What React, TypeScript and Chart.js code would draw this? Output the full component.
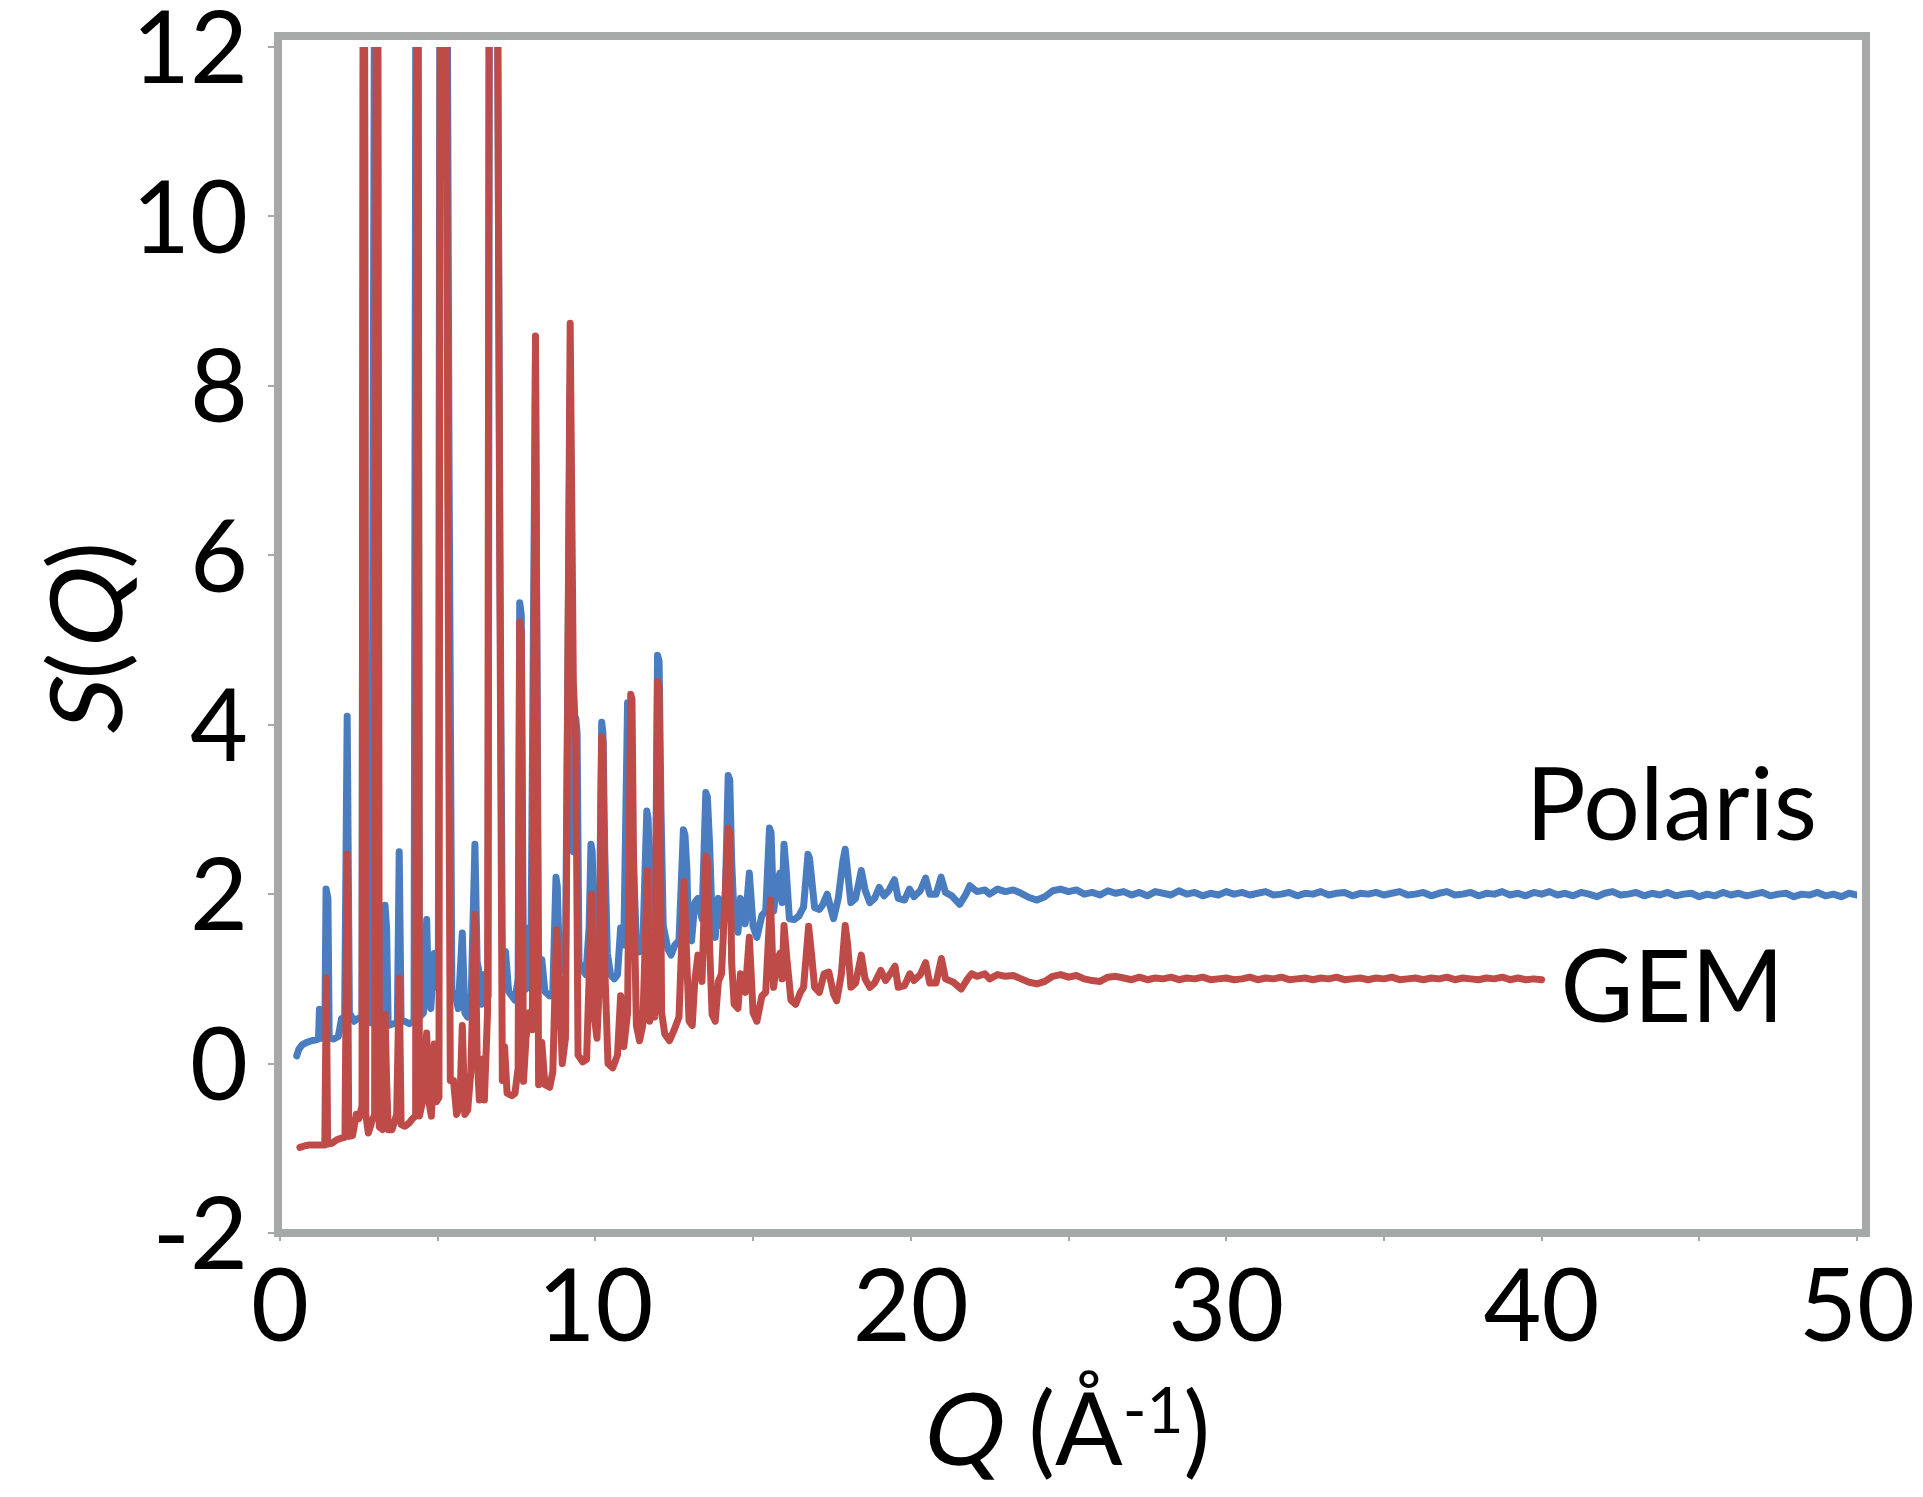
import React, { useEffect, useRef } from "react";
import { Chart, registerables } from "chart.js";

Chart.register(...registerables);

// ---------- data ----------
// Polaris, Bragg-peak region
const polarisPeakQ = [
  0.53, 0.6, 0.7, 0.85, 1.0, 1.15, 1.22, 1.25, 1.3, 1.33, 1.42, 1.46, 1.52, 1.56, 1.7, 1.85, 1.95, 2.05, 2.13, 2.2,
  2.35, 2.45, 2.6, 2.66, 2.72, 2.9, 3.05, 3.12, 3.25, 3.33, 3.38, 3.43, 3.6, 3.72, 3.78, 3.84, 3.95, 4.1, 4.25, 4.34,
  4.42, 4.55, 4.65, 4.71, 4.78, 4.89, 4.95, 5.02, 5.1, 5.17, 5.23, 5.36, 5.45, 5.55, 5.65, 5.78, 5.86, 5.95, 6.05, 6.18,
  6.25, 6.3, 6.38, 6.48, 6.6, 6.66, 6.75, 6.82, 6.97, 7.05, 7.15, 7.25, 7.35, 7.45, 7.55, 7.6, 7.65, 7.72, 7.8, 7.87,
  7.95, 8.1, 8.2, 8.3, 8.4, 8.55, 8.65, 8.75, 8.79, 8.85, 8.95, 9.05, 9.2, 9.3, 9.38, 9.42, 9.48, 9.6, 9.7, 9.8,
  9.86, 9.9, 9.95, 10.05, 10.12, 10.2, 10.24, 10.3, 10.38, 10.48, 10.6, 10.7, 10.8, 10.9, 11.02, 11.06, 11.12, 11.2, 11.3, 11.4,
  11.5, 11.63, 11.67, 11.72, 11.8, 11.9, 11.97, 12.02, 12.08, 12.15, 12.3, 12.4, 12.52, 12.65, 12.79, 12.84, 12.9, 12.95, 13.05, 13.15,
  13.25, 13.38, 13.5, 13.55, 13.62, 13.7, 13.8, 13.9, 14.0, 14.1, 14.21, 14.26, 14.32, 14.4, 14.52, 14.6, 14.75, 14.88, 15.0, 15.12,
  15.28, 15.4, 15.52, 15.57, 15.65, 15.75, 15.85, 15.92, 15.98, 16.05, 16.15, 16.3, 16.45, 16.6, 16.74, 16.79, 16.85, 16.95, 17.1, 17.2,
  17.35, 17.45, 17.55, 17.7, 17.85, 17.92, 18.0, 18.1, 18.25, 18.43, 18.55, 18.7, 18.85, 19.0, 19.15, 19.3, 19.48, 19.6, 19.8, 19.96,
  20.1, 20.3, 20.47, 20.6, 20.8, 20.96, 21.1, 21.3, 21.55, 21.75, 21.87, 22.1, 22.35,
];
const polarisPeakS = [
  0.09, 0.17, 0.22, 0.25, 0.27, 0.28, 0.29, 0.64, 0.62, 0.3, 0.3, 2.06, 1.95, 0.3, 0.29, 0.32, 0.53, 0.55, 4.1, 0.6,
  0.5, 0.53, 0.55, 18, 0.5, 0.48, 20, 0.5, 0.47, 1.87, 1.6, 0.45, 0.47, 0.48, 2.5, 0.5, 0.5, 0.47, 0.5, 20,
  0.55, 0.6, 1.7, 0.8, 0.65, 1.3, 0.9, 1.0, 20, 11, 20, 7.1, 0.8, 0.83, 0.65, 1.54, 0.6, 0.55, 0.6, 2.59,
  1.2, 1.1, 0.7, 1.05, 0.8, 20, 14, 20, 6.27, 1.3, 1.32, 0.85, 0.8, 0.75, 1.0, 5.44, 5.3, 0.9, 0.88, 1.6,
  1.0, 8.3, 1.0, 1.23, 0.85, 0.8, 0.85, 2.2, 2.1, 1.3, 1.1, 1.2, 8.0, 2.5, 4.07, 3.9, 1.2, 1.1, 1.05, 1.6,
  2.59, 2.5, 1.5, 1.25, 1.4, 4.03, 3.9, 2.45, 1.3, 1.05, 1.0, 1.05, 1.6, 1.4, 4.26, 4.1, 3.0, 2.46, 1.4, 1.32,
  1.35, 2.98, 2.9, 2.28, 1.6, 1.63, 4.82, 4.75, 3.0, 1.63, 1.35, 1.28, 1.4, 1.45, 2.76, 2.7, 2.3, 1.5, 1.45, 1.9,
  1.95, 1.71, 3.2, 3.15, 2.6, 1.71, 1.49, 1.95, 1.63, 1.7, 3.4, 3.35, 2.4, 1.71, 1.55, 1.95, 1.65, 2.25, 1.62, 1.49,
  1.75, 1.8, 2.78, 2.72, 1.8, 2.1, 2.25, 1.9, 2.59, 2.28, 1.71, 1.7, 1.74, 1.85, 2.47, 2.42, 2.2, 1.84, 1.82, 1.87,
  2.0, 1.85, 1.71, 1.95, 2.4, 2.53, 2.25, 1.9, 1.95, 2.28, 2.05, 1.9, 1.95, 2.08, 1.98, 2.04, 2.17, 1.95, 1.93, 2.06,
  1.97, 2.04, 2.19, 2.0, 2.0, 2.2, 2.02, 1.98, 1.88, 2.0, 2.1, 2.03, 2.05,
];
// Polaris, flat high-Q region
const polarisTailQ = [
  22.5, 22.75, 23.0, 23.25, 23.5, 23.75, 24.0, 24.25, 24.5, 24.75, 25.0, 25.25, 25.5, 25.75, 26.0, 26.25, 26.5, 26.75, 27.0, 27.25,
  27.5, 27.75, 28.0, 28.25, 28.5, 28.75, 29.0, 29.25, 29.5, 29.75, 30.0, 30.25, 30.5, 30.75, 31.0, 31.25, 31.5, 31.75, 32.0, 32.25,
  32.5, 32.75, 33.0, 33.25, 33.5, 33.75, 34.0, 34.25, 34.5, 34.75, 35.0, 35.25, 35.5, 35.75, 36.0, 36.25, 36.5, 36.75, 37.0, 37.25,
  37.5, 37.75, 38.0, 38.25, 38.5, 38.75, 39.0, 39.25, 39.5, 39.75, 40.0, 40.25, 40.5, 40.75, 41.0, 41.25, 41.5, 41.75, 42.0, 42.25,
  42.5, 42.75, 43.0, 43.25, 43.5, 43.75, 44.0, 44.25, 44.5, 44.75, 45.0, 45.25, 45.5, 45.75, 46.0, 46.25, 46.5, 46.75, 47.0, 47.25,
  47.5, 47.75, 48.0, 48.25, 48.5, 48.75, 49.0, 49.25, 49.5, 49.75, 50.0,
];
const polarisTailS = [
  2.0, 2.06, 2.03, 2.05, 2.01, 1.96, 1.93, 1.97, 2.04, 2.06, 2.03, 2.05, 2.0, 2.02, 1.99, 2.04, 2.01, 2.03, 1.99, 2.02,
  1.98, 2.03, 2.01, 1.99, 2.04, 2.0, 2.02, 1.98, 2.01, 1.99, 2.03, 2.0, 2.02, 1.99, 2.01, 2.03, 1.99, 2.0, 2.02, 1.98,
  2.01, 2.0, 2.03, 1.99, 2.01, 2.02, 1.98, 2.01, 2.0, 2.02, 1.99, 2.01, 2.03, 1.99, 2.0, 2.02, 1.98, 2.01, 2.03, 1.99,
  2.0, 2.02, 1.98, 2.01, 2.0, 2.03, 1.99, 2.01, 1.98, 2.02, 2.0, 2.03, 1.99, 2.01, 1.98, 2.02, 2.0, 1.97, 2.01, 2.03,
  1.99, 2.0, 2.02, 1.98, 2.01, 1.99, 2.02, 1.98, 2.0, 2.01, 1.97, 2.0, 1.98, 2.02, 1.99, 2.01, 1.98, 2.0, 2.02, 1.98,
  2.0, 2.01, 1.97, 2.0, 1.99, 2.02, 1.98, 2.0, 1.97, 2.01, 1.99,
];

// GEM, Bragg-peak region
const gemPeakQ = [
  0.63, 0.8, 0.95, 1.1, 1.3, 1.42, 1.47, 1.51, 1.65, 1.8, 1.95, 2.06, 2.13, 2.18, 2.3, 2.42, 2.5, 2.6, 2.66, 2.72,
  2.8, 2.9, 3.0, 3.08, 3.15, 3.25, 3.33, 3.38, 3.43, 3.55, 3.7, 3.78, 3.84, 3.96, 4.1, 4.2, 4.3, 4.36, 4.42, 4.52,
  4.65, 4.72, 4.8, 4.89, 4.96, 5.04, 5.1, 5.17, 5.23, 5.32, 5.4, 5.5, 5.6, 5.7, 5.78, 5.86, 5.95, 6.05, 6.18, 6.25,
  6.32, 6.4, 6.48, 6.58, 6.66, 6.75, 6.82, 6.97, 7.05, 7.12, 7.2, 7.35, 7.45, 7.55, 7.6, 7.65, 7.72, 7.8, 7.9, 8.0,
  8.1, 8.2, 8.3, 8.4, 8.55, 8.65, 8.77, 8.87, 8.95, 9.05, 9.2, 9.3, 9.38, 9.45, 9.6, 9.72, 9.8, 9.88, 9.95, 10.05,
  10.12, 10.2, 10.24, 10.3, 10.4, 10.55, 10.7, 10.8, 10.9, 11.02, 11.12, 11.16, 11.22, 11.3, 11.4, 11.5, 11.65, 11.72, 11.8, 11.88,
  11.97, 12.02, 12.1, 12.2, 12.35, 12.5, 12.65, 12.81, 12.88, 12.97, 13.07, 13.15, 13.25, 13.38, 13.5, 13.55, 13.62, 13.7, 13.8, 13.9,
  14.0, 14.21, 14.26, 14.32, 14.4, 14.52, 14.6, 14.75, 14.88, 15.0, 15.12, 15.28, 15.4, 15.55, 15.65, 15.75, 15.85, 15.92, 15.98, 16.08,
  16.2, 16.35, 16.5, 16.6, 16.76, 16.85, 16.95, 17.1, 17.25, 17.4, 17.55, 17.65, 17.8, 17.92, 18.0, 18.1, 18.25, 18.43, 18.55, 18.7,
  18.85, 19.05, 19.2, 19.35, 19.5, 19.6, 19.8, 19.97, 20.1, 20.3, 20.47, 20.6, 20.8, 20.97, 21.1, 21.35, 21.6, 21.8, 21.93, 22.1,
  22.35,
];
const gemPeakS = [
  -0.99, -0.97, -0.96, -0.96, -0.96, -0.96, 1.01, -0.95, -0.94, -0.9, -0.88, -0.87, 2.47, -0.86, -0.85, -0.6, -0.65, -0.5, 20, -0.6,
  -0.82, -0.7, -0.6, 20, -0.75, -0.78, 0.58, -0.2, -0.78, -0.78, -0.6, 1.01, -0.72, -0.74, -0.7, -0.65, -0.62, 20, -0.62, -0.45,
  0.36, -0.45, -0.62, 0.23, -0.45, -0.4, 20, 11, 20, 6.64, -0.2, -0.2, -0.6, -0.5, 0.45, -0.6, -0.55, -0.1, 1.76, 0.1,
  -0.43, 0.05, -0.43, 0.6, 20, 14, 20, 5.74, -0.2, 0.2, -0.35, -0.38, -0.35, -0.05, 5.21, 5.1, -0.21, 0.3, 0.6, 0.4,
  8.59, -0.25, 0.25, -0.25, -0.28, -0.1, 1.58, 0.8, 0.0, 0.3, 8.74, 4.5, 3.8, 0.1, 0.02, 0.05, 1.0, 2.0, 0.6, 0.3,
  0.9, 3.86, 3.8, 1.1, 0.0, -0.05, 0.1, 0.8, 0.2, 0.6, 4.36, 4.3, 2.0, 0.45, 0.27, 0.45, 2.28, 0.5, 1.35, 0.55,
  4.51, 4.45, 0.6, 0.35, 0.27, 0.4, 0.55, 2.15, 1.4, 0.5, 0.45, 0.97, 1.28, 0.97, 2.45, 2.4, 1.4, 0.58, 0.5, 0.97,
  1.06, 2.78, 2.72, 1.19, 0.7, 0.65, 1.06, 0.84, 1.49, 0.6, 0.5, 0.8, 0.84, 1.93, 0.9, 1.2, 1.3, 1.0, 1.63, 1.2,
  0.75, 0.7, 0.84, 0.9, 1.62, 1.3, 0.9, 0.84, 1.06, 1.08, 0.82, 0.74, 1.06, 1.63, 1.4, 0.9, 0.95, 1.28, 1.0, 0.9,
  0.95, 1.1, 0.98, 1.06, 1.15, 0.9, 0.92, 1.06, 0.98, 1.05, 1.19, 0.95, 0.95, 1.24, 1.0, 0.96, 0.88, 1.0, 1.06, 1.03,
  1.06,
];
// GEM, flat high-Q region
const gemTailQ = [
  22.5, 22.75, 23.0, 23.25, 23.5, 23.75, 24.0, 24.25, 24.5, 24.75, 25.0, 25.25, 25.5, 25.75, 26.0, 26.25, 26.5, 26.75, 27.0, 27.25,
  27.5, 27.75, 28.0, 28.25, 28.5, 28.75, 29.0, 29.25, 29.5, 29.75, 30.0, 30.25, 30.5, 30.75, 31.0, 31.25, 31.5, 31.75, 32.0, 32.25,
  32.5, 32.75, 33.0, 33.25, 33.5, 33.75, 34.0, 34.25, 34.5, 34.75, 35.0, 35.25, 35.5, 35.75, 36.0, 36.25, 36.5, 36.75, 37.0, 37.25,
  37.5, 37.75, 38.0, 38.25, 38.5, 38.75, 39.0, 39.25, 39.5, 39.75, 40.0,
];
const gemTailS = [
  1.0, 1.05, 1.03, 1.04, 1.0, 0.96, 0.94, 0.97, 1.03, 1.05, 1.02, 1.04, 1.0, 0.98, 0.97, 1.02, 1.03, 1.01, 0.99, 1.02,
  0.99, 1.01, 1.0, 1.02, 0.99, 1.01, 1.0, 1.02, 0.99, 1.0, 1.01, 0.99, 1.0, 1.02, 0.99, 1.01, 1.0, 1.02, 0.99, 1.0,
  1.01, 0.99, 1.01, 1.0, 1.02, 0.99, 1.0, 1.01, 0.99, 1.01, 1.0, 1.02, 0.99, 1.0, 1.01, 0.99, 1.01, 1.0, 1.02, 0.99,
  1.01, 1.0, 0.99, 1.01, 1.0, 1.02, 0.99, 1.01, 0.99, 1.0, 0.99,
];

const seriesNames = ["GEM", "Polaris"];
const xTickLabels = ["0", "10", "20", "30", "40", "50"];
const yTickLabels = ["-2", "0", "2", "4", "6", "8", "10", "12"];

// ---------- styles ----------
const FONT = "Lato, 'Open Sans', sans-serif";
const BLUE = "#4a7dbf";
const RED = "#bf4b48";
const FRAME = "#a6a9a7";

type Run = { t: string; italic?: boolean; size: number; dy?: number };

function drawRuns(ctx: CanvasRenderingContext2D, runs: Run[], cx: number, y: number) {
  let total = 0;
  const widths = runs.map((r) => {
    ctx.font = `${r.size}px ${FONT}`;
    const w = ctx.measureText(r.t).width + (r.italic ? 4 : 0);
    total += w;
    return w;
  });
  let x = cx - total / 2;
  runs.forEach((r, i) => {
    ctx.font = `${r.size}px ${FONT}`;
    ctx.save();
    ctx.translate(x, y + (r.dy || 0));
    if (r.italic) ctx.transform(1, 0, -0.2, 1, 0, 0);
    ctx.fillText(r.t, 0, 0);
    ctx.restore();
    x += widths[i];
  });
}

const overlayPlugin = {
  id: "overlay",
  afterDraw(chart: any) {
    const ctx: CanvasRenderingContext2D = chart.ctx;
    const ca = chart.chartArea;
    const xs = chart.scales.x;
    const ys = chart.scales.y;
    ctx.save();
    // plot frame
    ctx.strokeStyle = FRAME;
    ctx.lineWidth = 8;
    ctx.lineJoin = "miter";
    ctx.strokeRect(ca.left - 2, ca.top - 11, ca.right + 9 - (ca.left - 2), ca.bottom - (ca.top - 11));

    ctx.fillStyle = "#000";
    ctx.textAlign = "left";
    ctx.textBaseline = "alphabetic";
    // series labels
    ctx.font = `100px ${FONT}`;
    ctx.fillText(seriesNames[1], xs.getPixelForValue(39.5), ys.getPixelForValue(2.64));
    ctx.fillText(seriesNames[0], xs.getPixelForValue(40.6), ys.getPixelForValue(0.49));

    // x axis title: Q (Å^-1)
    drawRuns(
      ctx,
      [
        { t: "Q", italic: true, size: 100 },
        { t: " (", size: 100 },
        { t: "Å", size: 100 },
        { t: "-1", size: 64, dy: -32 },
        { t: ")", size: 100 },
      ],
      (ca.left + ca.right) / 2 - 4,
      1465
    );

    // y axis title: S(Q)
    ctx.translate(122, (ca.top + ca.bottom) / 2);
    ctx.rotate(-Math.PI / 2);
    drawRuns(
      ctx,
      [
        { t: "S", italic: true, size: 100 },
        { t: "(", size: 100 },
        { t: "Q", italic: true, size: 100 },
        { t: ")", size: 100 },
      ],
      0,
      0
    );
    ctx.restore();
  },
};

export default function App() {
  const ref = useRef<HTMLCanvasElement | null>(null);

  useEffect(() => {
    if (!ref.current) return;
    const gemQ = gemPeakQ.concat(gemTailQ);
    const gemS = gemPeakS.concat(gemTailS);
    const polQ = polarisPeakQ.concat(polarisTailQ);
    const polS = polarisPeakS.concat(polarisTailS);
    const gem = gemQ.map((q, i) => ({ x: q, y: gemS[i] }));
    const pol = polQ.map((q, i) => ({ x: q, y: polS[i] }));
    const lineStyle = {
      showLine: true,
      borderWidth: 7,
      pointRadius: 0,
      pointHoverRadius: 0,
      tension: 0,
      borderCapStyle: "round",
      borderJoinStyle: "round",
      clip: 0,
    };
    const chart = new Chart(ref.current, {
      type: "scatter",
      data: {
        datasets: [
          { label: seriesNames[0], data: gem, borderColor: RED, backgroundColor: RED, ...lineStyle } as any,
          { label: seriesNames[1], data: pol, borderColor: BLUE, backgroundColor: BLUE, ...lineStyle } as any,
        ],
      },
      options: {
        animation: false,
        responsive: false,
        devicePixelRatio: 1,
        layout: { padding: { left: 0, top: 47, right: 65, bottom: 0 } },
        plugins: { legend: { display: false }, tooltip: { enabled: false } },
        scales: {
          x: {
            type: "linear",
            min: 0,
            max: 50,
            border: { display: false },
            grid: { drawOnChartArea: false, drawTicks: true, tickLength: 8, color: FRAME, lineWidth: 2 },
            ticks: {
              stepSize: 5,
              autoSkip: false,
              maxRotation: 0,
              padding: 8,
              color: "#000",
              font: { family: FONT, size: 100 },
              callback: (v: any) => {
                const s = String(v);
                return xTickLabels.includes(s) ? s : "";
              },
            },
            afterFit: (s: any) => {
              s.height = 264;
            },
          },
          y: {
            type: "linear",
            min: -2,
            max: 12,
            border: { display: false },
            grid: { drawOnChartArea: false, drawTicks: true, tickLength: 12, color: FRAME, lineWidth: 2 },
            ticks: {
              stepSize: 2,
              padding: 20,
              labelOffset: 4,
              color: "#000",
              font: { family: FONT, size: 100 },
              callback: (v: any) => {
                const s = String(v);
                return yTickLabels.includes(s) ? s : "";
              },
            },
            afterFit: (s: any) => {
              s.width = 280;
              s.paddingTop = 0;
              s.paddingBottom = 0;
            },
          },
        },
      },
      plugins: [overlayPlugin],
    });
    return () => chart.destroy();
  }, []);

  return (
    <div style={{ position: "absolute", left: 0, top: 0, width: 1923, height: 1497, background: "#fff" }}>
      <canvas ref={ref} width={1923} height={1497} style={{ display: "block", width: 1923, height: 1497 }} />
    </div>
  );
}
